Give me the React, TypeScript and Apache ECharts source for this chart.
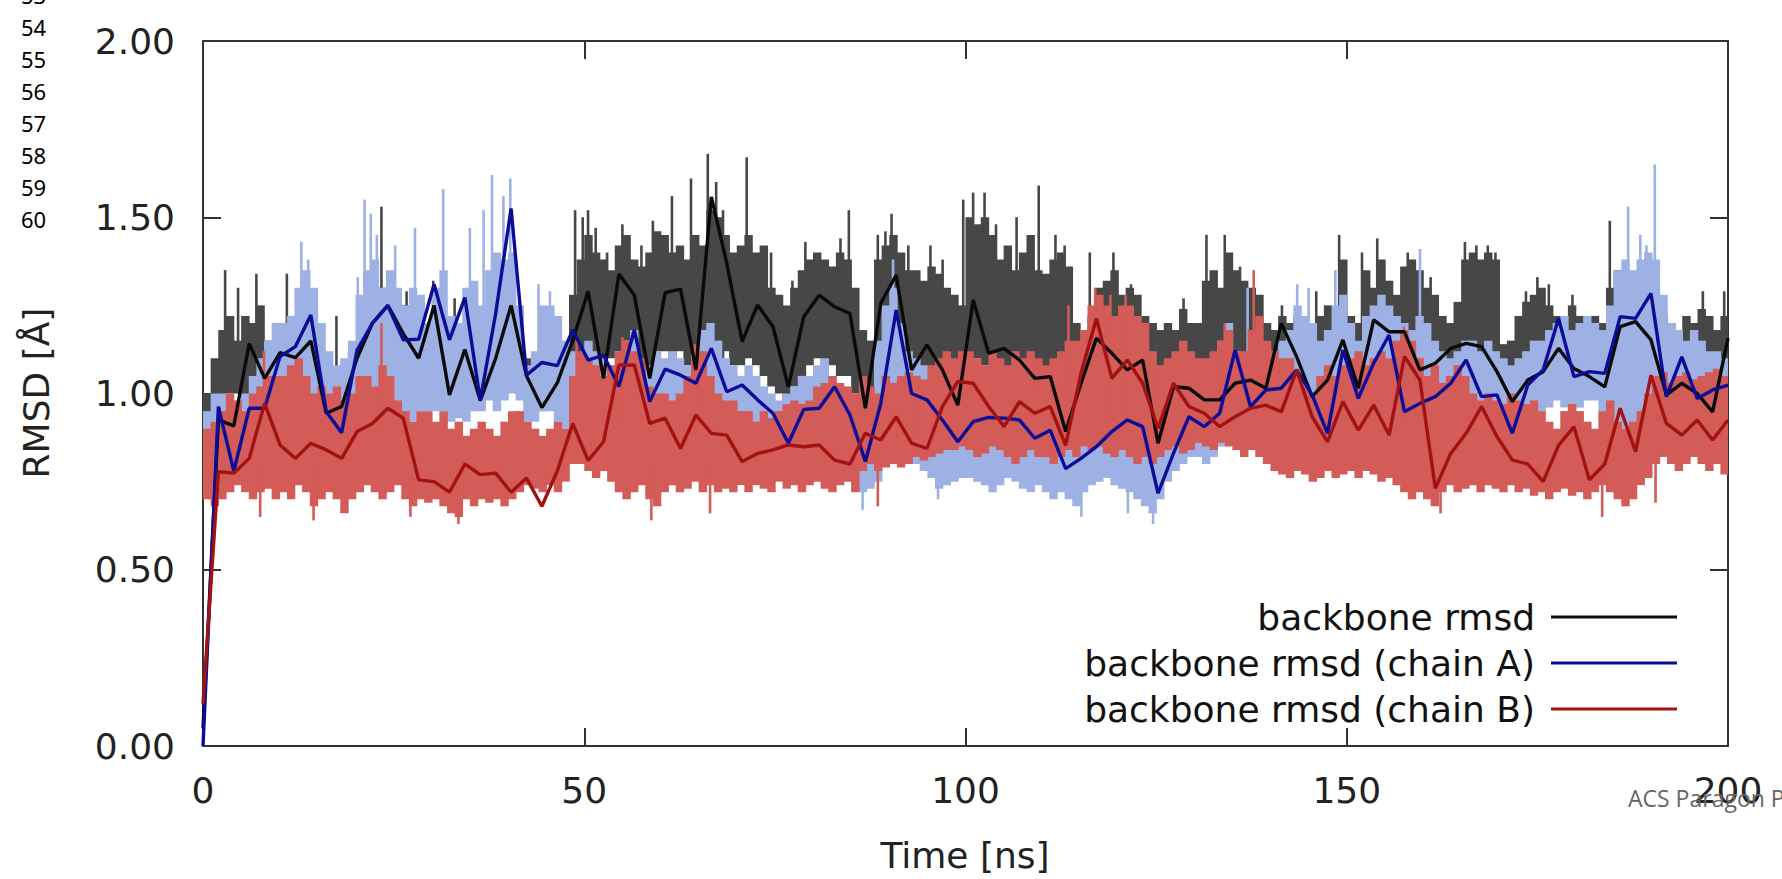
import { useEffect, useRef } from 'react';
import * as echarts from 'echarts';

// ---------- text ----------
const lineNumbers = ['53', '54', '55', '56', '57', '58', '59', '60'];
const seriesNames = ['backbone rmsd', 'backbone rmsd (chain A)', 'backbone rmsd (chain B)'];
const xTitle = 'Time [ns]';
const yTitle = 'RMSD [Å]';
const footer = 'ACS Paragon Plus Environment';

// ---------- raw traces, per 1 ns interval [t, t+1], t = 0..199 ----------
const backboneTop = [
  1.00, 1.10, 1.18, 1.22, 1.15, 1.22, 1.20, 1.25, 1.15, 1.12,
  1.10, 1.22, 1.12, 1.10, 1.15, 1.05, 0.98, 1.02, 1.05, 1.12,
  1.15, 1.20, 1.22, 1.30, 1.25, 1.18, 1.25, 1.18, 1.12, 1.15,
  1.28, 1.12, 1.05, 1.20, 1.15, 1.08, 1.05, 1.10, 1.15, 1.20,
  1.22, 1.12, 1.10, 1.08, 1.02, 1.05, 1.10, 1.12, 1.28, 1.38,
  1.45, 1.40, 1.38, 1.35, 1.42, 1.45, 1.38, 1.36, 1.40, 1.46,
  1.45, 1.40, 1.42, 1.38, 1.45, 1.42, 1.52, 1.50, 1.45, 1.40,
  1.42, 1.45, 1.40, 1.42, 1.30, 1.28, 1.25, 1.30, 1.35, 1.38,
  1.40, 1.38, 1.36, 1.40, 1.38, 1.30, 1.18, 1.15, 1.38, 1.42,
  1.45, 1.40, 1.35, 1.35, 1.32, 1.36, 1.34, 1.30, 1.28, 1.25,
  1.50, 1.48, 1.50, 1.45, 1.38, 1.42, 1.35, 1.40, 1.45, 1.35,
  1.34, 1.38, 1.40, 1.36, 1.20, 1.18, 1.22, 1.30, 1.32, 1.35,
  1.28, 1.30, 1.28, 1.22, 1.20, 1.18, 1.20, 1.18, 1.24, 1.20,
  1.20, 1.32, 1.35, 1.30, 1.40, 1.35, 1.32, 1.30, 1.28, 1.20,
  1.18, 1.22, 1.20, 1.22, 1.20, 1.18, 1.22, 1.25, 1.20, 1.38,
  1.22, 1.20, 1.35, 1.30, 1.38, 1.32, 1.28, 1.36, 1.38, 1.35,
  1.30, 1.28, 1.22, 1.20, 1.26, 1.38, 1.40, 1.38, 1.40, 1.38,
  1.14, 1.15, 1.22, 1.26, 1.28, 1.30, 1.25, 1.22, 1.20, 1.25,
  1.22, 1.20, 1.22, 1.20, 1.30, 1.35, 1.25, 1.22, 1.20, 1.18,
  1.20, 1.22, 1.20, 1.18, 1.22, 1.20, 1.24, 1.22, 1.18, 1.22,
];
const backboneBottom = [
  0.90, 0.95, 0.98, 1.00, 1.00, 0.98, 1.00, 1.02, 1.00, 1.02,
  1.02, 1.00, 1.05, 1.05, 1.02, 1.00, 0.95, 0.95, 0.98, 1.00,
  1.02, 1.05, 1.05, 1.08, 1.05, 1.02, 1.05, 1.02, 1.00, 1.02,
  1.05, 1.00, 0.98, 1.02, 1.00, 0.98, 0.98, 1.00, 1.02, 1.05,
  1.05, 1.00, 0.98, 0.98, 0.95, 0.98, 1.00, 1.02, 1.05, 1.10,
  1.12, 1.10, 1.08, 1.10, 1.12, 1.15, 1.12, 1.10, 1.08, 1.12,
  1.12, 1.10, 1.12, 1.08, 1.10, 1.15, 1.18, 1.15, 1.12, 1.08,
  1.08, 1.10, 1.08, 1.05, 1.02, 1.00, 0.98, 1.02, 1.05, 1.08,
  1.10, 1.08, 1.08, 1.05, 1.05, 1.00, 0.95, 0.98, 1.08, 1.15,
  1.15, 1.10, 1.08, 1.08, 1.05, 1.05, 1.02, 1.00, 1.00, 1.05,
  1.10, 1.10, 1.08, 1.08, 1.05, 1.05, 1.05, 1.02, 1.00, 1.00,
  1.00, 1.02, 1.00, 0.98, 0.98, 1.00, 1.05, 1.08, 1.05, 1.05,
  1.05, 1.05, 1.02, 1.00, 0.90, 0.95, 1.00, 1.00, 1.02, 1.00,
  1.00, 1.02, 1.02, 1.05, 1.05, 1.05, 1.05, 1.05, 1.02, 1.02,
  1.05, 1.05, 1.02, 1.00, 1.00, 1.00, 1.02, 1.05, 1.08, 1.05,
  1.02, 1.00, 1.05, 1.08, 1.10, 1.10, 1.08, 1.10, 1.10, 1.08,
  1.05, 1.05, 1.05, 1.05, 1.08, 1.10, 1.10, 1.10, 1.08, 1.05,
  1.00, 0.98, 1.00, 1.02, 1.05, 1.05, 1.05, 1.05, 1.08, 1.05,
  1.05, 1.05, 1.02, 1.02, 1.08, 1.10, 1.10, 1.10, 1.08, 1.05,
  1.05, 0.98, 0.98, 1.00, 1.00, 0.98, 1.00, 1.00, 0.98, 1.00,
];
// thin excursions [time, from, to]
const backboneSpikes = [
  [2.9, 1.0, 1.35], [4.6, 1.0, 1.30], [7.0, 1.0, 1.34], [11.0, 1.0, 1.34], [17.5, 1.0, 1.22],
  [23.4, 1.0, 1.53], [26.7, 1.0, 1.29], [30.2, 1.0, 1.32], [33.0, 1.0, 1.27], [39.5, 1.0, 1.27],
  [48.8, 1.0, 1.52], [49.8, 1.0, 1.50],
  [50.5, 1.1, 1.52], [51.5, 1.1, 1.47], [53.0, 1.1, 1.40], [55.0, 1.1, 1.48], [57.5, 1.1, 1.42],
  [59.0, 1.1, 1.49], [61.5, 1.1, 1.56], [64.0, 1.1, 1.61], [66.2, 1.1, 1.68], [67.3, 1.1, 1.60],
  [68.2, 1.1, 1.52], [71.3, 1.1, 1.67], [74.5, 1.1, 1.40], [77.3, 1.1, 1.32], [79.0, 1.1, 1.43],
  [83.6, 1.1, 1.44], [84.7, 1.1, 1.52], [88.5, 1.1, 1.45], [89.5, 1.1, 1.46], [90.3, 1.1, 1.51],
  [92.5, 1.1, 1.42], [95.4, 1.1, 1.42], [97.0, 1.1, 1.38], [99.7, 1.1, 1.55],
  [101.0, 1.1, 1.57], [102.5, 1.1, 1.57], [104.0, 1.1, 1.48], [106.7, 1.1, 1.50], [109.6, 1.1, 1.59],
  [111.8, 1.1, 1.45], [113.0, 1.1, 1.42], [116.3, 1.1, 1.40], [119.4, 1.1, 1.40], [121.7, 1.1, 1.31],
  [128.6, 1.1, 1.27], [131.6, 1.1, 1.45], [134.0, 1.1, 1.45], [136.0, 1.1, 1.36], [141.5, 1.1, 1.25],
  [146.0, 1.1, 1.29], [149.0, 1.1, 1.45],
  [152.0, 1.1, 1.40], [154.0, 1.1, 1.44], [158.0, 1.1, 1.40], [161.0, 1.1, 1.33], [165.5, 1.1, 1.43],
  [167.0, 1.1, 1.42], [168.5, 1.1, 1.42], [169.5, 1.1, 1.40], [173.5, 1.1, 1.29], [175.0, 1.1, 1.33],
  [176.5, 1.1, 1.31], [179.6, 1.1, 1.28], [184.5, 1.1, 1.49], [196.7, 1.1, 1.29], [199.5, 1.1, 1.29],
];

const chainATop = [
  0.95, 1.00, 1.00, 0.98, 0.98, 1.00, 1.05, 1.10, 1.15, 1.20,
  1.20, 1.22, 1.30, 1.35, 1.30, 1.20, 1.12, 1.08, 1.10, 1.15,
  1.28, 1.35, 1.38, 1.30, 1.35, 1.30, 1.25, 1.30, 1.28, 1.20,
  1.30, 1.35, 1.22, 1.20, 1.30, 1.32, 1.25, 1.35, 1.40, 1.38,
  1.40, 1.25, 1.08, 1.12, 1.25, 1.25, 1.22, 1.15, 1.12, 1.10,
  1.15, 1.12, 1.10, 1.08, 1.12, 1.15, 1.18, 1.10, 1.08, 1.12,
  1.10, 1.12, 1.10, 1.08, 1.12, 1.18, 1.20, 1.15, 1.10, 1.08,
  1.05, 1.08, 1.05, 1.02, 1.00, 0.98, 1.00, 1.02, 1.05, 1.05,
  1.08, 1.10, 1.05, 1.02, 1.00, 0.95, 0.95, 1.00, 1.15, 1.25,
  1.30, 1.20, 1.12, 1.10, 1.08, 1.05, 1.02, 1.00, 1.05, 1.05,
  1.05, 1.05, 1.02, 1.00, 1.02, 1.00, 0.98, 0.98, 0.95, 0.95,
  0.95, 0.92, 0.90, 0.92, 0.95, 0.98, 1.00, 1.02, 1.00, 0.98,
  1.00, 0.98, 0.95, 0.92, 0.90, 0.92, 0.98, 1.02, 1.05, 1.05,
  1.05, 1.08, 1.10, 1.15, 1.20, 1.12, 1.08, 1.10, 1.12, 1.10,
  1.12, 1.15, 1.18, 1.25, 1.22, 1.20, 1.15, 1.18, 1.25, 1.28,
  1.20, 1.15, 1.22, 1.25, 1.28, 1.25, 1.22, 1.20, 1.18, 1.22,
  1.20, 1.15, 1.12, 1.10, 1.12, 1.15, 1.15, 1.12, 1.15, 1.12,
  1.10, 1.08, 1.10, 1.12, 1.15, 1.15, 1.18, 1.20, 1.22, 1.18,
  1.20, 1.22, 1.20, 1.18, 1.25, 1.35, 1.38, 1.35, 1.38, 1.40,
  1.38, 1.28, 1.20, 1.18, 1.15, 1.18, 1.15, 1.12, 1.12, 1.10,
];
const chainABottom = [
  0.85, 0.90, 0.92, 0.90, 0.90, 0.92, 0.95, 0.95, 0.95, 0.95,
  0.95, 0.95, 0.98, 0.98, 0.95, 0.92, 0.90, 0.88, 0.88, 0.90,
  0.92, 0.95, 0.98, 0.98, 0.95, 0.92, 0.90, 0.92, 0.95, 0.95,
  0.95, 0.95, 0.92, 0.93, 0.92, 0.95, 0.95, 0.98, 0.95, 0.98,
  1.00, 0.98, 0.92, 0.92, 0.95, 0.95, 0.92, 0.90, 0.92, 0.95,
  0.90, 0.90, 0.88, 0.88, 0.90, 0.92, 0.90, 0.88, 0.88, 0.90,
  0.90, 0.88, 0.88, 0.90, 0.90, 0.88, 0.88, 0.88, 0.85, 0.85,
  0.85, 0.85, 0.85, 0.85, 0.82, 0.80, 0.80, 0.82, 0.85, 0.85,
  0.85, 0.85, 0.82, 0.80, 0.78, 0.75, 0.72, 0.73, 0.75, 0.80,
  0.85, 0.85, 0.82, 0.80, 0.78, 0.76, 0.73, 0.74, 0.75, 0.76,
  0.76, 0.75, 0.74, 0.72, 0.74, 0.76, 0.75, 0.73, 0.72, 0.74,
  0.72, 0.70, 0.72, 0.70, 0.68, 0.72, 0.74, 0.75, 0.76, 0.74,
  0.73, 0.72, 0.70, 0.68, 0.66, 0.70, 0.75, 0.78, 0.80, 0.82,
  0.82, 0.80, 0.82, 0.85, 0.88, 0.85, 0.85, 0.86, 0.88, 0.88,
  0.88, 0.90, 0.90, 0.92, 0.90, 0.88, 0.90, 0.92, 0.95, 0.95,
  0.92, 0.90, 0.90, 0.92, 0.95, 0.95, 0.92, 0.90, 0.92, 0.92,
  0.90, 0.88, 0.88, 0.90, 0.90, 0.92, 0.92, 0.90, 0.88, 0.90,
  0.92, 0.90, 0.90, 0.92, 0.95, 0.95, 0.96, 0.98, 0.96, 0.95,
  0.96, 0.98, 0.98, 0.95, 0.95, 0.92, 0.90, 0.90, 0.92, 0.95,
  0.95, 0.92, 0.90, 0.88, 0.88, 0.86, 0.85, 0.86, 0.85, 0.84,
];
const chainASpikes = [
  [12.9, 1.1, 1.43], [13.8, 1.1, 1.38], [20.3, 1.1, 1.33], [21.2, 1.1, 1.55], [22.0, 1.1, 1.51],
  [22.8, 1.1, 1.45], [25.2, 1.1, 1.42], [27.8, 1.1, 1.47], [31.5, 1.1, 1.58], [35.0, 1.1, 1.47],
  [36.8, 1.1, 1.52], [37.9, 1.1, 1.62], [39.4, 1.1, 1.56], [40.3, 1.1, 1.61], [44.0, 1.1, 1.31],
  [45.5, 1.1, 1.29], [90.5, 1.0, 1.38], [137.0, 1.0, 1.30], [143.5, 1.0, 1.31], [145.0, 1.0, 1.30],
  [148.5, 1.0, 1.35], [159.6, 1.0, 1.41], [186.9, 1.0, 1.53], [188.5, 1.0, 1.45], [189.3, 1.0, 1.42],
  [190.4, 1.0, 1.65],
  [86.5, 0.67, 0.80], [96.4, 0.70, 0.80], [115.2, 0.65, 0.75], [124.6, 0.63, 0.72], [121.3, 0.66, 0.74],
];

const chainBTop = [
  0.90, 0.92, 0.95, 1.00, 0.98, 0.95, 1.00, 1.02, 1.05, 1.05,
  1.05, 1.08, 1.10, 1.05, 1.00, 1.02, 1.00, 1.02, 0.98, 1.00,
  1.05, 1.05, 1.02, 1.08, 1.05, 0.98, 0.95, 0.92, 0.95, 0.95,
  0.92, 0.95, 0.90, 0.92, 0.88, 0.90, 0.92, 0.90, 0.88, 0.92,
  0.95, 0.95, 0.92, 0.90, 0.88, 0.90, 0.92, 0.90, 1.05, 1.12,
  1.10, 1.08, 1.05, 1.08, 1.12, 1.15, 1.12, 1.10, 1.02, 1.00,
  1.00, 0.98, 1.00, 1.05, 1.10, 1.12, 1.05, 1.00, 0.98, 0.98,
  0.95, 0.95, 0.92, 0.95, 0.93, 0.95, 0.97, 0.98, 0.97, 0.98,
  1.02, 1.03, 1.05, 1.03, 1.02, 1.00, 1.05, 1.02, 1.00, 1.05,
  1.03, 1.05, 1.06, 1.05, 1.04, 1.08, 1.10, 1.12, 1.10, 1.12,
  1.12, 1.10, 1.08, 1.12, 1.10, 1.08, 1.12, 1.10, 1.12, 1.10,
  1.08, 1.10, 1.12, 1.15, 1.15, 1.18, 1.25, 1.28, 1.25, 1.22,
  1.25, 1.25, 1.22, 1.20, 1.12, 1.08, 1.10, 1.12, 1.15, 1.12,
  1.10, 1.10, 1.12, 1.15, 1.18, 1.12, 1.12, 1.18, 1.22, 1.15,
  1.12, 1.10, 1.10, 1.05, 1.02, 1.00, 1.05, 1.08, 1.05, 1.08,
  1.10, 1.12, 1.08, 1.10, 1.12, 1.10, 1.15, 1.18, 1.15, 1.10,
  1.05, 1.08, 1.03, 1.05, 1.08, 1.05, 1.00, 0.98, 1.00, 0.98,
  0.97, 1.00, 0.98, 0.97, 0.98, 0.95, 0.92, 0.90, 0.95, 0.97,
  0.95, 0.92, 0.90, 0.95, 0.98, 0.92, 0.90, 0.92, 0.95, 1.00,
  1.05, 1.06, 1.03, 1.05, 1.06, 1.04, 1.05, 1.06, 1.07, 1.05,
];
const chainBBottom = [
  0.70, 0.68, 0.70, 0.72, 0.74, 0.72, 0.70, 0.72, 0.73, 0.70,
  0.72, 0.70, 0.74, 0.72, 0.68, 0.70, 0.72, 0.70, 0.66, 0.70,
  0.72, 0.74, 0.72, 0.70, 0.72, 0.74, 0.70, 0.68, 0.70, 0.69,
  0.70, 0.68, 0.66, 0.65, 0.70, 0.68, 0.70, 0.69, 0.70, 0.68,
  0.70, 0.72, 0.74, 0.73, 0.72, 0.74, 0.72, 0.75, 0.80, 0.80,
  0.78, 0.76, 0.78, 0.75, 0.72, 0.70, 0.72, 0.74, 0.70, 0.68,
  0.72, 0.74, 0.72, 0.73, 0.75, 0.72, 0.74, 0.72, 0.73, 0.72,
  0.74, 0.72, 0.74, 0.73, 0.72, 0.75, 0.73, 0.74, 0.72, 0.74,
  0.75, 0.73, 0.72, 0.74, 0.75, 0.72, 0.78, 0.80, 0.78, 0.79,
  0.80, 0.79, 0.80, 0.82, 0.81, 0.82, 0.83, 0.84, 0.84, 0.85,
  0.84, 0.82, 0.83, 0.85, 0.84, 0.82, 0.80, 0.82, 0.84, 0.82,
  0.82, 0.80, 0.82, 0.84, 0.82, 0.85, 0.84, 0.85, 0.83, 0.82,
  0.84, 0.82, 0.80, 0.82, 0.80, 0.82, 0.84, 0.85, 0.83, 0.84,
  0.86, 0.85, 0.84, 0.86, 0.85, 0.84, 0.82, 0.84, 0.82, 0.80,
  0.78, 0.77, 0.76, 0.78, 0.77, 0.75, 0.76, 0.78, 0.76, 0.77,
  0.78, 0.76, 0.78, 0.77, 0.75, 0.76, 0.74, 0.72, 0.70, 0.72,
  0.70, 0.68, 0.72, 0.74, 0.72, 0.73, 0.74, 0.72, 0.74, 0.73,
  0.72, 0.74, 0.72, 0.73, 0.71, 0.72, 0.70, 0.72, 0.73, 0.71,
  0.72, 0.70, 0.72, 0.74, 0.72, 0.70, 0.68, 0.70, 0.74, 0.76,
  0.80, 0.82, 0.80, 0.78, 0.80, 0.82, 0.80, 0.78, 0.80, 0.77,
];
const chainBSpikes = [
  [8.0, 0.9, 1.12], [23.4, 0.9, 1.20], [49.0, 0.9, 1.15], [55.0, 0.9, 1.16], [64.5, 0.9, 1.14],
  [113.5, 0.9, 1.25], [117.0, 0.9, 1.30], [119.0, 0.9, 1.28], [121.0, 0.9, 1.28], [134.0, 0.9, 1.20],
  [137.8, 0.9, 1.35], [157.5, 0.9, 1.19],
  [7.5, 0.65, 0.8], [14.5, 0.64, 0.8], [27.2, 0.65, 0.8], [33.5, 0.63, 0.8], [58.8, 0.64, 0.8],
  [66.5, 0.66, 0.8], [88.5, 0.68, 0.85], [162.3, 0.66, 0.8], [183.5, 0.65, 0.8], [190.5, 0.69, 0.85],
];

// ---------- running averages, 100 points spanning 0..200 ns ----------
const backboneAvg = [
  0.05,
  0.925, 0.908, 1.142, 1.043, 1.116, 1.102, 1.149, 0.944, 0.963, 1.10,
  1.20, 1.25, 1.17, 1.10, 1.25, 0.996, 1.125, 0.98, 1.10, 1.25,
  1.05, 0.96, 1.03, 1.15, 1.29,
  1.043, 1.339, 1.279, 1.043, 1.286, 1.296, 1.067, 1.558, 1.37, 1.147,
  1.251, 1.19, 1.019, 1.218, 1.279, 1.246, 1.227, 0.958, 1.256, 1.336,
  1.067, 1.138, 1.067, 0.967, 1.265,
  1.114, 1.128, 1.095, 1.043, 1.048, 0.892, 1.029, 1.157, 1.114, 1.067,
  1.095, 0.859, 1.019, 1.015, 0.982, 0.982, 1.029, 1.038, 1.015, 1.199,
  1.104, 0.991, 1.038, 1.152,
  1.015, 1.209, 1.175, 1.175, 1.067, 1.086, 1.128, 1.142, 1.133, 1.062,
  0.977, 1.038, 1.062, 1.128, 1.071, 1.048, 1.019, 1.19, 1.204, 1.152,
  0.996, 1.029, 1.0, 0.948, 1.157,
];
const chainAAvg = [
  0.0,
  0.963, 0.78, 0.958, 0.958, 1.105, 1.133, 1.223, 0.948, 0.889, 1.123,
  1.199, 1.249, 1.152, 1.154, 1.31, 1.152, 1.272, 0.981, 1.227, 1.525,
  1.052, 1.088, 1.079, 1.18, 1.095,
  1.109, 1.02, 1.18, 0.977, 1.069, 1.052, 1.029, 1.128, 1.005, 1.024,
  0.982, 0.944, 0.859, 0.955, 0.958, 1.019, 0.939, 0.807, 0.972, 1.237,
  1.0, 0.982, 0.925, 0.863, 0.92,
  0.932, 0.93, 0.925, 0.873, 0.896, 0.787, 0.816, 0.849, 0.892, 0.925,
  0.906, 0.717, 0.83, 0.934, 0.906, 0.944, 1.123, 0.963, 1.01, 1.015,
  1.067, 0.996, 0.887, 1.123,
  0.986, 1.086, 1.166, 0.948, 0.972, 0.991, 1.029, 1.095, 0.991, 0.996,
  0.887, 1.024, 1.067, 1.213, 1.048, 1.062, 1.057, 1.218, 1.213, 1.284,
  0.991, 1.104, 0.986, 1.01, 1.024,
];
const chainBAvg = [
  0.12,
  0.778, 0.774, 0.816, 0.972, 0.854, 0.816, 0.859, 0.84, 0.816, 0.892,
  0.915, 0.958, 0.93, 0.755, 0.75, 0.72, 0.80, 0.77, 0.774, 0.72,
  0.76, 0.68, 0.78, 0.915, 0.81,
  0.863, 1.081, 1.081, 0.915, 0.93, 0.844, 0.939, 0.887, 0.882, 0.807,
  0.83, 0.84, 0.854, 0.849, 0.854, 0.811, 0.80, 0.887, 0.868, 0.934,
  0.859, 0.844, 0.963, 1.034, 1.029,
  0.963, 0.906, 0.977, 0.944, 0.963, 0.853, 1.058, 1.213, 1.043, 1.095,
  1.029, 0.901, 1.029, 0.963, 0.944, 0.906, 0.934, 0.958, 0.967, 0.948,
  1.067, 0.934, 0.863, 0.977,
  0.896, 0.967, 0.882, 1.105, 1.038, 0.731, 0.83, 0.887, 0.963, 0.878,
  0.811, 0.80, 0.75, 0.853, 0.906, 0.755, 0.80, 0.958, 0.835, 1.052,
  0.915, 0.882, 0.925, 0.868, 0.925,
];

// ---------- styling ----------
const FONT = 'DejaVu Sans';
const GRAY_RAW = '#474747';
const BLUE_RAW = '#9eb1e5';
const RED_RAW = '#d35b58';
const BLACK_AVG = '#0a0a0a';
const BLUE_AVG = '#0c0c98';
const RED_AVG = '#a31212';

const tMax = 200;

function bandRows(top: number[], bottom: number[]) {
  const n = Math.min(top.length, bottom.length);
  const rows: number[][] = [];
  for (let t = 0; t < n; t++) rows.push([t, bottom[t], top[t]]);
  return rows;
}
function avgRows(values: number[]) {
  const n = values.length;
  return values.map((v, k) => [(k * tMax) / (n - 1), v]);
}

function bandSeries(name: string, rows: number[][], color: string) {
  return {
    type: 'custom',
    name,
    data: rows,
    encode: { x: 0, y: [1, 2] },
    clip: true,
    silent: true,
    renderItem: (_p: any, api: any) => {
      const t = api.value(0);
      const lo = api.value(1);
      const hi = api.value(2);
      const a = api.coord([t, hi]);
      const b = api.coord([t + 1, lo]);
      return {
        type: 'rect',
        shape: { x: a[0], y: a[1], width: b[0] - a[0] + 0.8, height: b[1] - a[1] },
        style: { fill: color },
      };
    },
  };
}
function spikeSeries(name: string, rows: number[][], color: string) {
  return {
    type: 'custom',
    name,
    data: rows,
    encode: { x: 0, y: [1, 2] },
    clip: true,
    silent: true,
    renderItem: (_p: any, api: any) => {
      const t = api.value(0);
      const lo = api.value(1);
      const hi = api.value(2);
      const a = api.coord([t, hi]);
      const b = api.coord([t, lo]);
      return {
        type: 'rect',
        shape: { x: a[0] - 1.3, y: a[1], width: 2.6, height: b[1] - a[1] },
        style: { fill: color },
      };
    },
  };
}
function avgSeries(name: string, values: number[], color: string) {
  return {
    type: 'line',
    name,
    data: avgRows(values),
    showSymbol: false,
    symbol: 'none',
    color,
    lineStyle: { color, width: 3.4 },
    itemStyle: { color },
    z: 5,
  };
}

const axisLineStyle = { color: '#333', width: 2 };

export default function App() {
  const ref = useRef<HTMLDivElement>(null);
  useEffect(() => {
    if (!ref.current) return;
    const chart = echarts.init(ref.current, null, { renderer: 'svg' });
    const option: any = {
      animation: false,
      backgroundColor: '#ffffff',
      grid: { left: 203, right: 54, top: 41, bottom: 133, show: false },
      xAxis: [
        {
          type: 'value', min: 0, max: 200, interval: 50, position: 'bottom',
          axisLine: { show: true, onZero: false, lineStyle: axisLineStyle },
          axisTick: { show: true, inside: true, length: 18, lineStyle: axisLineStyle },
          axisLabel: { fontSize: 36, fontFamily: FONT, color: '#222', margin: 26 },
          splitLine: { show: false },
        },
        {
          type: 'value', min: 0, max: 200, interval: 50, position: 'top',
          axisLine: { show: true, onZero: false, lineStyle: axisLineStyle },
          axisTick: { show: true, inside: true, length: 18, lineStyle: axisLineStyle },
          axisLabel: { show: false },
          splitLine: { show: false },
        },
      ],
      yAxis: [
        {
          type: 'value', min: 0, max: 2, interval: 0.5, position: 'left',
          axisLine: { show: true, onZero: false, lineStyle: axisLineStyle },
          axisTick: { show: true, inside: true, length: 18, lineStyle: axisLineStyle },
          axisLabel: {
            fontSize: 36, fontFamily: FONT, color: '#222', margin: 28,
            formatter: (v: number) => v.toFixed(2),
          },
          splitLine: { show: false },
        },
        {
          type: 'value', min: 0, max: 2, interval: 0.5, position: 'right',
          axisLine: { show: true, onZero: false, lineStyle: axisLineStyle },
          axisTick: { show: true, inside: true, length: 18, lineStyle: axisLineStyle },
          axisLabel: { show: false },
          splitLine: { show: false },
        },
      ],
      legend: {
        data: seriesNames,
        orient: 'vertical',
        right: 100,
        top: 592,
        align: 'right',
        icon: 'rect',
        itemWidth: 126,
        itemHeight: 3,
        itemGap: 6,
        selectedMode: false,
        textStyle: { fontSize: 36, fontFamily: FONT, color: '#111', lineHeight: 40, padding: [0, 11, 0, 0] },
      },
      series: [
        bandSeries('backbone raw', bandRows(backboneTop, backboneBottom), GRAY_RAW),
        spikeSeries('backbone raw spikes', backboneSpikes, GRAY_RAW),
        bandSeries('chain A raw', bandRows(chainATop, chainABottom), BLUE_RAW),
        spikeSeries('chain A raw spikes', chainASpikes, BLUE_RAW),
        bandSeries('chain B raw', bandRows(chainBTop, chainBBottom), RED_RAW),
        spikeSeries('chain B raw spikes', chainBSpikes, RED_RAW),
        avgSeries(seriesNames[0], backboneAvg, BLACK_AVG),
        avgSeries(seriesNames[1], chainAAvg, BLUE_AVG),
        avgSeries(seriesNames[2], chainBAvg, RED_AVG),
      ],
      graphic: [
        ...lineNumbers.map((s, i) => ({
          type: 'text', x: 21, y: -5 + 32 * i, z: 10,
          style: { text: s, fontSize: 22, fontFamily: 'Noto Sans', fill: '#000', align: 'left', verticalAlign: 'middle' },
        })),
        {
          type: 'text', x: 36, y: 393, rotation: Math.PI / 2, z: 10,
          style: { text: yTitle, fontSize: 36, fontFamily: FONT, fill: '#222', align: 'center', verticalAlign: 'middle' },
        },
        {
          type: 'text', x: 965, y: 855, z: 10,
          style: { text: xTitle, fontSize: 36, fontFamily: FONT, fill: '#222', align: 'center', verticalAlign: 'middle' },
        },
        {
          type: 'text', x: 1628, y: 798, z: 10,
          style: { text: footer, fontSize: 23, fontFamily: 'Open Sans', fill: '#666', align: 'left', verticalAlign: 'middle' },
        },
      ],
    };
    chart.setOption(option);
    return () => chart.dispose();
  }, []);
  return (
    <div
      ref={ref}
      style={{ position: 'fixed', left: 0, top: 0, width: 1782, height: 879, background: '#ffffff' }}
    />
  );
}
